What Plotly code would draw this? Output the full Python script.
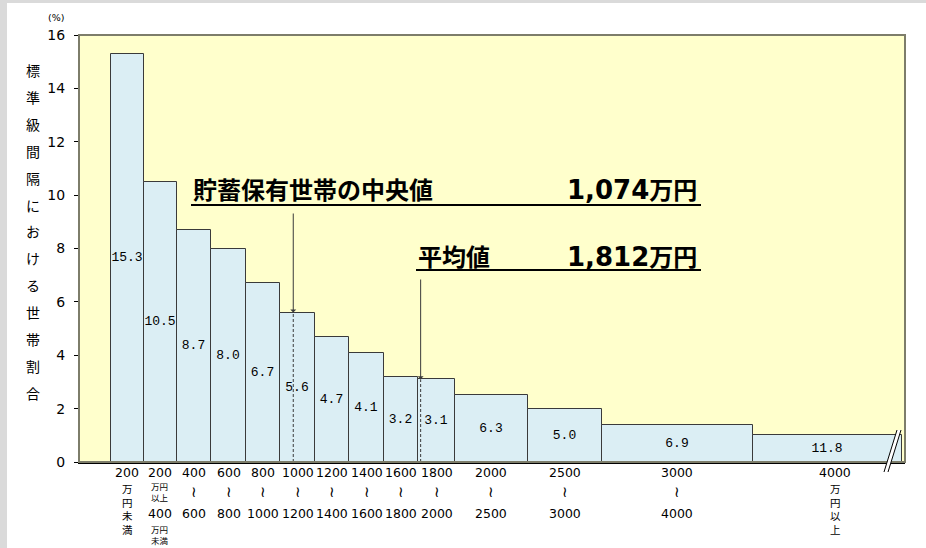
import plotly.graph_objects as go

# ---------------- data ----------------
bin_from = ["200", "200", "400", "600", "800", "1000", "1200", "1400",
            "1600", "1800", "2000", "2500", "3000", "4000"]
bin_to = ["", "400", "600", "800", "1000", "1200", "1400", "1600",
          "1800", "2000", "2500", "3000", "4000", ""]
bin_lo = [0, 200, 400, 600, 800, 1000, 1200, 1400, 1600, 1800, 2000, 2500, 3000, 4000]
bin_hi = [200, 400, 600, 800, 1000, 1200, 1400, 1600, 1800, 2000, 2500, 3000, 4000, 6000]
share_pct = [15.3, 10.5, 8.7, 8.0, 6.7, 5.6, 4.7, 4.1, 3.2, 3.1, 6.3, 5.0, 6.9, 11.8]
std_share = [15.3, 10.5, 8.7, 8.0, 6.7, 5.6, 4.7, 4.1, 3.2, 3.1, 2.52, 2.0, 1.38, 1.0]
median_value = 1074
mean_value = 1812
median_text = "貯蓄保有世帯の中央値"
median_num, median_unit = "1,074", "万円"
mean_text = "平均値"
mean_num, mean_unit = "1,812", "万円"
y_title = "標準級間隔における世帯割合"
y_ticks = [0, 2, 4, 6, 8, 10, 12, 14, 16]

# ---------------- layout constants ----------------
W_FIG, H_FIG = 926, 548
L, R, T, B = 79, 21, 35, 86
PW, PH = W_FIG - L - R, H_FIG - T - B
UNIT_PX = 34.5
X_MAX = PW / UNIT_PX
Y_MAX = 16
disp_w = [0.94, 0.97, 1, 1, 1, 1, 1, 1, 1, 1.05, 2.12, 2.15, 4.37, 4.32]
x_start = 0.93

edges = [x_start]
for w in disp_w:
    edges.append(edges[-1] + w)
centers = [(edges[i] + edges[i + 1]) / 2 for i in range(len(disp_w))]


def value_to_x(v):
    for i in range(len(bin_lo)):
        if bin_lo[i] <= v < bin_hi[i]:
            return edges[i] + (v - bin_lo[i]) / (bin_hi[i] - bin_lo[i]) * disp_w[i]
    return edges[-1]


def value_height(v):
    for i in range(len(bin_lo)):
        if bin_lo[i] <= v < bin_hi[i]:
            return std_share[i]
    return 0


def px_x(px):
    return (px - L) / PW


def px_y(py):
    return 1 - (py - T) / PH


def py_to_y(py):
    return (T + PH - py) / PH * Y_MAX


NUM_FONT = "DejaVu Sans"
JP_FONT = "Noto Sans CJK JP"

fig = go.Figure()
fig.add_trace(go.Bar(
    x=centers, y=std_share, width=disp_w,
    marker=dict(color="#dbeef4", line=dict(color="#3a3a3a", width=1)),
    text=[f"{v:.1f}" for v in share_pct],
    textposition="inside", insidetextanchor="middle", constraintext="none",
    textfont=dict(family="Liberation Mono", size=13, color="#000000"),
    textangle=0, hoverinfo="skip", showlegend=False,
))

annotations = []
shapes = []

# y axis title, one character per row
for k, ch in enumerate(y_title):
    annotations.append(dict(
        x=px_x(33), y=px_y(70 + k * 26.9), xref="paper", yref="paper",
        text=ch, showarrow=False, xanchor="center", yanchor="middle",
        font=dict(family=JP_FONT, size=14, color="#000")))
annotations.append(dict(
    x=px_x(56), y=px_y(18), xref="paper", yref="paper", text="(%)",
    showarrow=False, xanchor="center", yanchor="middle",
    font=dict(family=NUM_FONT, size=9.5, color="#000")))


# x category labels
def xlab(xc, offset, text, size=12.5, family=NUM_FONT, xshift=0, yanchor="middle"):
    annotations.append(dict(
        x=xc, y=0, xref="x", yref="paper", yshift=-offset, xshift=xshift,
        text=text, showarrow=False, xanchor="center", yanchor=yanchor,
        font=dict(family=family, size=size, color="#000")))


n = len(bin_from)
for i in range(n):
    xc = centers[i]
    if i == 0:
        xlab(xc, 10, bin_from[i])
        xlab(xc, 17, "<br>".join("万円未満"), size=10.5, family=JP_FONT, yanchor="top")
    elif i == 1:
        xlab(xc, 10, bin_from[i])
        xlab(xc, 16, "万円<br>以上", size=8.5, family=JP_FONT, yanchor="top")
        xlab(xc, 51, bin_to[i])
        xlab(xc, 59, "万円<br>未満", size=8.5, family=JP_FONT, yanchor="top")
    elif i == n - 1:
        xlab(xc, 10, bin_from[i], xshift=8)
        xlab(xc, 17, "<br>".join("万円以上"), size=10.5, family=JP_FONT,
             xshift=8, yanchor="top")
    else:
        xlab(xc, 10, bin_from[i])
        xlab(xc, 30, "≀", size=15, family="DejaVu Sans")
        xlab(xc, 51, bin_to[i])

# median / mean arrows and dashed guides
for val, top_py in [(median_value, 212), (mean_value, 278)]:
    xv = value_to_x(val)
    hv = value_height(val)
    annotations.append(dict(
        x=xv, y=hv, xref="x", yref="y", ax=xv, ay=py_to_y(top_py),
        axref="x", ayref="y", showarrow=True, arrowhead=1, arrowsize=1,
        arrowwidth=1, arrowcolor="#3a3a3a", text=""))
    shapes.append(dict(type="line", xref="x", yref="y", x0=xv, x1=xv,
                       y0=0, y1=hv, line=dict(color="#3a3a3a", width=1,
                                              dash="3px,2px"), layer="above"))

# big texts with underline
big = dict(family=JP_FONT, size=24, color="#000")


def amount_html(num, unit):
    return (f"<b><span style='font-family:DejaVu Sans;font-size:26px'>{num}</span>"
            f"{unit}</b>")


annotations.append(dict(x=px_x(191), y=px_y(189), xref="paper", yref="paper",
                        text=f"<b>{median_text}</b>", showarrow=False,
                        xanchor="left", yanchor="middle", font=big))
annotations.append(dict(x=px_x(699), y=px_y(189), xref="paper", yref="paper",
                        text=amount_html(median_num, median_unit), showarrow=False,
                        xanchor="right", yanchor="middle", font=big))
annotations.append(dict(x=px_x(416), y=px_y(255), xref="paper", yref="paper",
                        text=f"<b>{mean_text}</b>", showarrow=False,
                        xanchor="left", yanchor="middle", font=big))
annotations.append(dict(x=px_x(699), y=px_y(255), xref="paper", yref="paper",
                        text=amount_html(mean_num, mean_unit), showarrow=False,
                        xanchor="right", yanchor="middle", font=big))
for x0, x1, py in [(191, 701, 205), (416, 701, 270)]:
    shapes.append(dict(type="line", xref="paper", yref="paper",
                       x0=px_x(x0), x1=px_x(x1), y0=px_y(py), y1=px_y(py),
                       line=dict(color="#000", width=2)))

# plot border
shapes.append(dict(type="rect", xref="paper", yref="paper", x0=0, x1=1, y0=0, y1=1,
                   line=dict(color="#7d7d6a", width=2), layer="above"))

# axis-break mark
bx_top, bx_bot, by_top, by_bot, gap = 897, 884, 430, 472, 4
shapes.append(dict(type="path", xref="paper", yref="paper",
                   path=(f"M{px_x(bx_top)},{px_y(by_top)} L{px_x(bx_top + gap)},{px_y(by_top)} "
                         f"L{px_x(bx_bot + gap)},{px_y(by_bot)} L{px_x(bx_bot)},{px_y(by_bot)} Z"),
                   fillcolor="#ffffff", line=dict(width=0), layer="above"))
for dx in (0, gap):
    shapes.append(dict(type="line", xref="paper", yref="paper",
                       x0=px_x(bx_top + dx), y0=px_y(by_top),
                       x1=px_x(bx_bot + dx), y1=px_y(by_bot),
                       line=dict(color="#000", width=1), layer="above"))

# outer gray frame strips
shapes.append(dict(type="rect", xref="paper", yref="paper",
                   x0=px_x(0), x1=px_x(7), y0=px_y(H_FIG), y1=px_y(0),
                   fillcolor="#dadada", line=dict(width=0), layer="below"))
shapes.append(dict(type="rect", xref="paper", yref="paper",
                   x0=px_x(0), x1=px_x(W_FIG), y0=px_y(3), y1=px_y(0),
                   fillcolor="#dadada", line=dict(width=0), layer="below"))

fig.update_layout(
    width=W_FIG, height=H_FIG,
    margin=dict(l=L, r=R, t=T, b=B, pad=0),
    paper_bgcolor="#ffffff", plot_bgcolor="#ffffcc",
    bargap=0,
    xaxis=dict(range=[0, X_MAX], showticklabels=False, ticks="", showgrid=False,
               zeroline=False, showline=True, linecolor="#000", linewidth=2,
               fixedrange=True),
    yaxis=dict(range=[0, Y_MAX], tickvals=y_ticks, ticks="outside", ticklen=4,
               tickcolor="#000", showgrid=False, zeroline=False, showline=True,
               linecolor="#222", linewidth=1, ticklabelstandoff=6,
               tickfont=dict(family=NUM_FONT, size=14, color="#000"),
               fixedrange=True),
    annotations=annotations, shapes=shapes,
    showlegend=False,
)

fig.write_html("out.html", config={"displayModeBar": False},
               post_script="document.body.style.margin='0';"
                           "document.body.style.overflow='hidden';")
